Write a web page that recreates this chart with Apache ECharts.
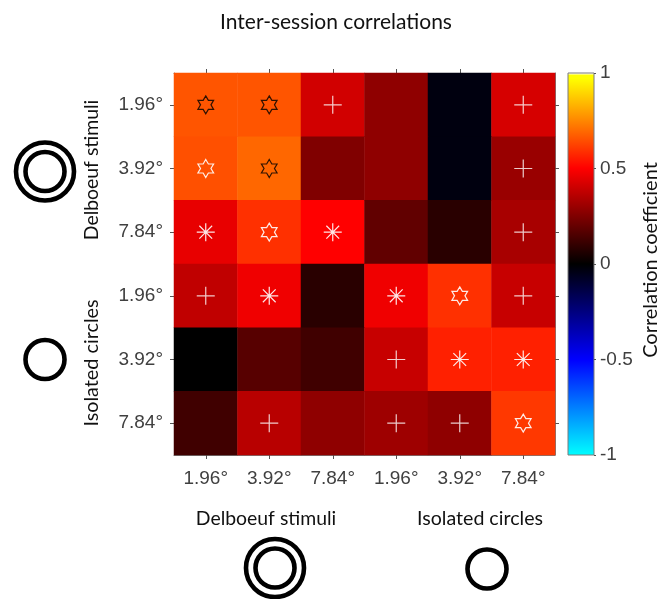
<!DOCTYPE html>
<html>
<head>
<meta charset="utf-8">
<style>html,body{margin:0;padding:0;background:#fff}#c{width:659px;height:599px}</style>
<script src="https://cdn.jsdelivr.net/npm/echarts@6/dist/echarts.min.js"></script>
</head>
<body>
<div id="c"></div>
<script>
const xLabels = ['1.96°','3.92°','7.84°','1.96°','3.92°','7.84°'];
const yLabels = ['1.96°','3.92°','7.84°','1.96°','3.92°','7.84°'];
const colorbarTicks = [-1,-0.5,0,0.5,1];

const row1 = [0.657,0.657,0.41,0.28,-0.03,0.42];
const row2 = [0.647,0.69,0.25,0.28,-0.03,0.30];
const row3 = [0.455,0.588,0.50,0.19,0.08,0.33];
const row4 = [0.376,0.47,0.08,0.47,0.588,0.39];
const row5 = [0.00,0.17,0.125,0.39,0.559,0.559];
const row6 = [0.125,0.36,0.28,0.31,0.28,0.603];
const values = [row1,row2,row3,row4,row5,row6];

// significance markers: + plus, * asterisk, s white star, b black star, . none
const sig1 = ['b','b','+','.','.','+'];
const sig2 = ['s','b','.','.','.','+'];
const sig3 = ['*','s','*','.','.','+'];
const sig4 = ['+','*','.','*','s','+'];
const sig5 = ['.','.','.','+','*','*'];
const sig6 = ['.','+','.','+','+','s'];
const sigs = [sig1,sig2,sig3,sig4,sig5,sig6];

const colorAnchors = [
  [-1,[0,255,255]],[-0.5,[0,0,255]],[0,[0,0,0]],[0.5,[255,0,0]],
  [0.97,[255,255,0]],[0.985,[255,255,0]],[0.995,[255,255,230]],[1,[255,255,255]]
];
function colorAt(v){
  for(let i=1;i<colorAnchors.length;i++){
    const a=colorAnchors[i-1],b=colorAnchors[i];
    if(v<=b[0]){
      const t=(v-a[0])/(b[0]-a[0]);
      return 'rgb('+a[1].map((c,k)=>Math.round(c+(b[1][k]-c)*t)).join(',')+')';
    }
  }
  return 'rgb(255,255,255)';
}
const palette=[];
for(let i=0;i<=400;i++)palette.push(colorAt(-1+i/200));
const gradientStops=colorAnchors.map(a=>({offset:(1-a[0])/2,color:'rgb('+a[1].join(',')+')'})).reverse();

const heatData=[];
values.forEach((r,y)=>r.forEach((v,x)=>heatData.push([x,y,v])));
function marks(code){
  const out=[];
  sigs.forEach((r,y)=>r.forEach((s,x)=>{if(s===code)out.push([x,y]);}));
  return out;
}

const PLUS='path://M-100 0L100 0M0 -100L0 100';
const AST='path://M-100 0L100 0M0 -100L0 100M-71 -71L71 71M-71 71L71 -71';
const STAR='path://M0 -100L29 -50L87 -50L58 0L87 50L29 50L0 100L-29 50L-87 50L-58 0L-87 -50L-29 -50Z';

function markSeries(code,symbol,size,color,opacity){
  return {type:'scatter',xAxisIndex:0,yAxisIndex:0,data:marks(code),symbol:symbol,symbolSize:size,
    symbolKeepAspect:true,silent:true,z:5,
    itemStyle:{color:'none',borderColor:color,borderWidth:1.2,opacity:opacity}};
}

const AXC='#7a7a7a', LBL='#404040';
const tickFont={fontFamily:'Liberation Sans',fontSize:19,color:LBL};
const capFont='Lato';

function ring(cx,cy,r){
  return {type:'circle',shape:{cx:cx,cy:cy,r:r},style:{fill:'none',stroke:'#000',lineWidth:4.6}};
}
function label(text,x,y,rot,size){
  return {type:'text',x:x,y:y,rotation:rot||0,
    style:{text:text,fill:'#111',font:(size||19)+'px '+capFont,align:'center',verticalAlign:'middle'}};
}

const chart=echarts.init(document.getElementById('c'),null,{renderer:'canvas'});
chart.setOption({
  animation:false,
  backgroundColor:'#fff',
  grid:[
    {left:174,top:73,width:381,height:382,show:false},
    {left:568,top:73,width:26,height:382,show:true,borderColor:AXC,borderWidth:1,
      backgroundColor:{type:'linear',x:0,y:0,x2:0,y2:1,colorStops:gradientStops}}
  ],
  xAxis:[
    {type:'category',gridIndex:0,data:xLabels,position:'bottom',
      axisLine:{show:true,lineStyle:{color:AXC}},axisTick:{show:true,alignWithLabel:true,length:4,lineStyle:{color:'#555'}},
      axisLabel:Object.assign({margin:14,interval:0},tickFont),splitLine:{show:false}},
    {type:'category',gridIndex:0,data:xLabels,position:'top',
      axisLine:{show:true,lineStyle:{color:AXC}},axisTick:{show:true,alignWithLabel:true,length:4,lineStyle:{color:'#555'}},
      axisLabel:{show:false},splitLine:{show:false}},
    {type:'category',gridIndex:1,data:[''],axisLine:{show:false},axisTick:{show:false},axisLabel:{show:false},splitLine:{show:false}}
  ],
  yAxis:[
    {type:'category',gridIndex:0,data:yLabels,inverse:true,position:'left',
      axisLine:{show:true,lineStyle:{color:AXC}},axisTick:{show:true,alignWithLabel:true,length:4,lineStyle:{color:'#555'}},
      axisLabel:Object.assign({margin:11,interval:0},tickFont),splitLine:{show:false}},
    {type:'category',gridIndex:0,data:yLabels,inverse:true,position:'right',
      axisLine:{show:true,lineStyle:{color:AXC}},axisTick:{show:true,alignWithLabel:true,length:4,lineStyle:{color:'#555'}},
      axisLabel:{show:false},splitLine:{show:false}},
    {type:'value',gridIndex:1,min:colorbarTicks[0],max:colorbarTicks[4],interval:0.5,position:'right',
      axisLine:{show:false},axisTick:{show:true,length:2,lineStyle:{color:'#555'}},
      axisLabel:Object.assign({margin:6,formatter:v=>String(v)},tickFont),splitLine:{show:false}}
  ],
  visualMap:{show:false,type:'continuous',min:-1,max:1,seriesIndex:0,dimension:2,inRange:{color:palette}},
  series:[
    {type:'heatmap',xAxisIndex:0,yAxisIndex:0,data:heatData,silent:true,progressive:0,z:2,
      itemStyle:{borderWidth:0},emphasis:{disabled:true}},
    markSeries('+',PLUS,18,'#fff',0.8),
    markSeries('*',AST,18,'#fff',0.9),
    markSeries('s',STAR,18,'#fff',0.9),
    markSeries('b',STAR,18,'#1a0a00',0.9)
  ],
  graphic:{elements:[
    label('Inter-session correlations',336,22,0,21),
    label('Delboeuf stimuli',92,170,Math.PI/2,19.4),
    label('Isolated circles',92,363,Math.PI/2,19.8),
    label('Delboeuf stimuli',266,519,0,19.4),
    label('Isolated circles',480,519,0,19.6),
    label('Correlation coefficient',651,260,Math.PI/2,20),
    ring(45,171.5,29),ring(45,171.5,19.5),
    ring(45,359.5,19.5),
    ring(275,568,29),ring(275,568,19.5),
    ring(487,569,19.5)
  ]}
});
</script>
</body>
</html>
